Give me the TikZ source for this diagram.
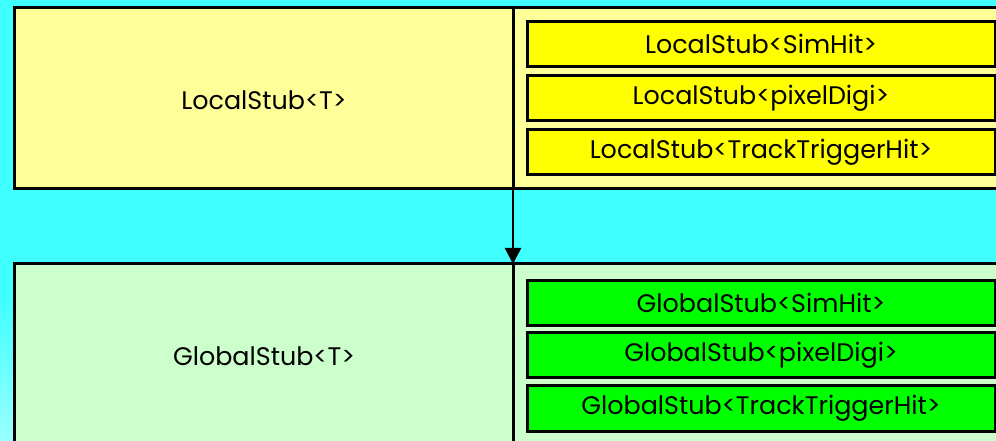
\documentclass[tikz,border=0pt]{standalone}
\usepackage{fontspec}
\setmainfont{Poppins}
\usetikzlibrary{arrows.meta}
\definecolor{bgcyan}{HTML}{40FFFF}
\definecolor{bgcyanlight}{HTML}{99FFFF}
\definecolor{paleyellow}{HTML}{FFFF99}
\definecolor{palegreen}{HTML}{CCFFCC}
\definecolor{brightyellow}{HTML}{FFFF00}
\definecolor{brightgreen}{HTML}{00FF00}
\tikzset{
  cell/.style={draw=black, line width=3bp, inner sep=0pt, outer sep=0pt, anchor=north west},
  item/.style={draw=black, line width=3bp, inner sep=0pt, outer sep=0pt, minimum width=468bp, minimum height=45bp, anchor=west, font=\fontsize{25.5}{28}\selectfont},
  bigtext/.style={font=\fontsize{25.5}{28}\selectfont}
}
\begin{document}
\begin{tikzpicture}[x=1bp,y=-1bp]
\useasboundingbox (0,0) rectangle (996,441);
\clip (0,0) rectangle (996,441);
\fill[bgcyan] (0,0) rectangle (996,441);
\shade[top color=bgcyan, bottom color=bgcyanlight] (0,300) rectangle (996,441);
% top composite box
\node[cell, fill=paleyellow, minimum width=499bp, minimum height=181bp] (localT) at (14,8) {};
\node[cell, fill=paleyellow, minimum width=500bp, minimum height=181bp] (localR) at (513,8) {};
\node[bigtext] (localLbl) at (264,100) {LocalStub<T>};
% bottom composite box
\node[cell, fill=palegreen, minimum width=499bp, minimum height=190bp] (globalT) at (14,264) {};
\node[cell, fill=palegreen, minimum width=500bp, minimum height=190bp] (globalR) at (513,264) {};
\node[bigtext] (globalLbl) at (264,356) {GlobalStub<T>};
% items
\node[item, fill=brightyellow] (l1) at (527,44) {LocalStub<SimHit>};
\node[item, fill=brightyellow] (l2) at (527,98.5) {LocalStub<pixelDigi>};
\node[item, fill=brightyellow] (l3) at (527,152) {LocalStub<TrackTriggerHit>};
\node[item, fill=brightgreen] (g1) at (527,303) {GlobalStub<SimHit>};
\node[item, fill=brightgreen] (g2) at (527,355) {GlobalStub<pixelDigi>};
\node[item, fill=brightgreen] (g3) at (527,408.5) {GlobalStub<TrackTriggerHit>};
% arrow
\draw[line width=2.5bp, -{Triangle[length=16bp, width=16bp]}] (localT.south east) -- (globalT.north east);
\end{tikzpicture}
\end{document}
